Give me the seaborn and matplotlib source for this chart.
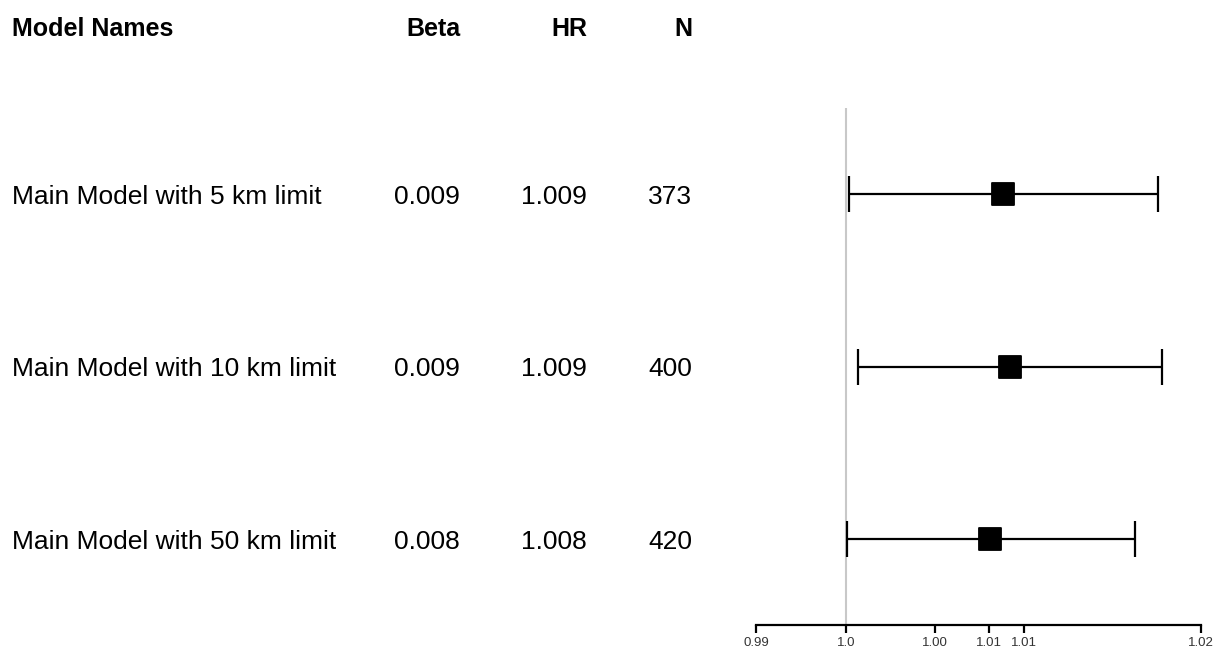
import matplotlib
matplotlib.use('Agg')
import matplotlib.pyplot as plt
import matplotlib.transforms as mtransforms
import pandas as pd
import seaborn as sns

# data
models = ['Main Model with 5 km limit', 'Main Model with 10 km limit', 'Main Model with 50 km limit']
beta = ['0.009', '0.009', '0.008']
hr_text = ['1.009', '1.009', '1.008']
n_obs = ['373', '400', '420']
hr = [1.00877, 1.00916, 1.00804]
ci_low = [1.00017, 1.00067, 1.00006]
ci_high = [1.01743, 1.01765, 1.01615]
tick_vals = [0.99497, 1.0, 1.00497, 1.00799, 1.00994, 1.01983]
tick_labels = ['0.99', '1.0', '1.00', '1.01', '1.01', '1.02']

df = pd.DataFrame({'model': models, 'hr': hr, 'lo': ci_low, 'hi': ci_high,
                   'row': [3, 2, 1]})

sns.set_style('white')
plt.rcParams['font.family'] = ['Liberation Sans', 'DejaVu Sans']

fig = plt.figure(figsize=(12.24, 6.6), dpi=100)
ax = fig.add_axes([756 / 1224, 35 / 660, 445 / 1224, 517 / 660])

# reference line at 1
ax.axvline(1.0, color='#c8c8c8', lw=1.5, zorder=0)

# confidence intervals
ax.errorbar(df['hr'], df['row'],
            xerr=[df['hr'] - df['lo'], df['hi'] - df['hr']],
            fmt='none', ecolor='black', elinewidth=1.6, capsize=13, capthick=1.6)

# point estimates
sns.scatterplot(data=df, x='hr', y='row', marker='s', s=270, color='black',
                edgecolor='black', ax=ax, zorder=3)

ax.set_xlim(tick_vals[0], tick_vals[-1])
ax.set_ylim(0.5, 3.5)
ax.set_xticks(tick_vals)
ax.set_xticklabels(tick_labels, fontsize=9.5, color='#333333')
ax.set_yticks([])
ax.set_xlabel('')
ax.set_ylabel('')
for s in ['top', 'right', 'left']:
    ax.spines[s].set_visible(False)
ax.spines['bottom'].set_linewidth(1.6)
ax.spines['bottom'].set_color('black')
ax.tick_params(axis='x', direction='out', length=6, width=1.6, color='black', pad=3,
               bottom=True)

# table columns
shift = mtransforms.ScaledTranslation(0, -3 / 100, fig.dpi_scale_trans)
trans = mtransforms.blended_transform_factory(fig.transFigure, ax.transData) + shift
fs = 19
hfs = 18
header_y = 1 - 29 / 660
fig.text(12 / 1224, header_y, 'Model Names', fontsize=hfs, fontweight='bold', va='center', ha='left', color='black')
fig.text(460 / 1224, header_y, 'Beta', fontsize=hfs, fontweight='bold', va='center', ha='right', color='black')
fig.text(587 / 1224, header_y, 'HR', fontsize=hfs, fontweight='bold', va='center', ha='right', color='black')
fig.text(692 / 1224, header_y, 'N', fontsize=hfs, fontweight='bold', va='center', ha='right', color='black')

for m, b, h, n, r in zip(models, beta, hr_text, n_obs, df['row']):
    ax.text(12 / 1224, r, m, transform=trans, fontsize=fs, va='center', ha='left', color='black')
    ax.text(460 / 1224, r, b, transform=trans, fontsize=fs, va='center', ha='right', color='black')
    ax.text(587 / 1224, r, h, transform=trans, fontsize=fs, va='center', ha='right', color='black')
    ax.text(692 / 1224, r, n, transform=trans, fontsize=fs, va='center', ha='right', color='black')

fig.savefig('out.png', dpi=100)
